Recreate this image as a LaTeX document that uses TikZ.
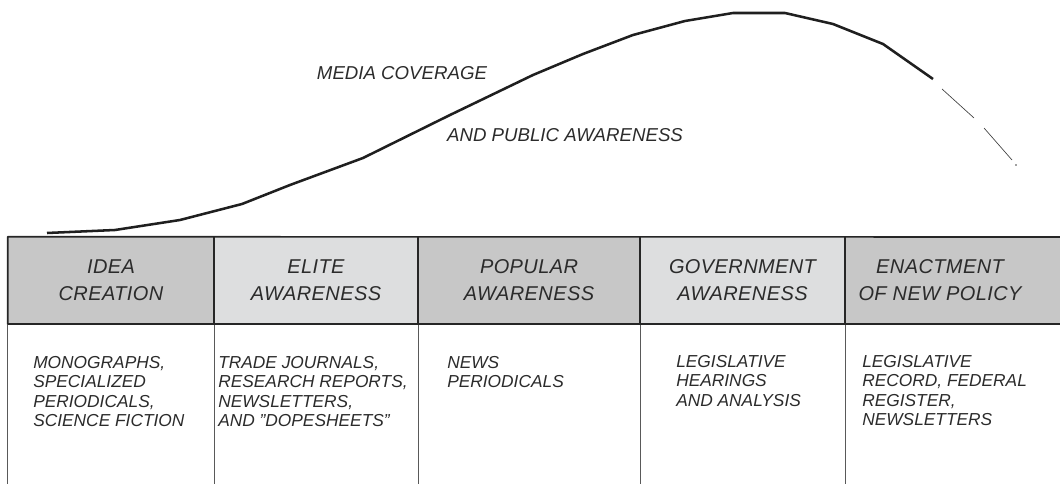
\documentclass[tikz,border=0pt]{standalone}
\usepackage{fontspec}
\setmainfont{Liberation Sans}
\usetikzlibrary{positioning}
\definecolor{ink}{HTML}{2B2B2B}
\definecolor{celldark}{HTML}{C7C7C7}
\definecolor{celllight}{HTML}{DDDEDF}

\begin{document}
\begin{tikzpicture}[x=0.75pt,y=-0.75pt,line join=round,
	cell/.style={inner sep=0pt,minimum height=65.25pt,align=center,text=ink,
		font=\fontsize{15}{20.25}\selectfont\itshape\addfontfeatures{LetterSpace=2}},
	dark cell/.style={cell,fill=celldark},
	light cell/.style={cell,fill=celllight},
	list node/.style={anchor=north west,inner sep=0pt,align=left,text=ink,
		font=\fontsize{13}{14.5}\selectfont\itshape},
	curve label/.style={inner sep=0pt,text=ink,font=\fontsize{14}{16}\selectfont\itshape},
	rule/.style={draw=black!85,line width=1.2pt},
	thin rule/.style={draw=black!65,line width=0.8pt},
	media curve/.style={draw=black!88,line width=1.9pt},
	fade curve/.style={draw=black!75,line width=0.5pt}]

	\useasboundingbox (0,0) rectangle (1060,484);

	% header band
	\fill[celldark] (8,237) rectangle (1062,324);
	\node[dark cell,minimum width=154.5pt] (idea) at (111,280.5) {IDEA\\CREATION};
	\node[light cell,minimum width=153pt] (elite) at (316,280.5) {ELITE\\AWARENESS};
	\node[dark cell,minimum width=166.5pt] (popular) at (529,280.5) {POPULAR\\AWARENESS};
	\node[light cell,minimum width=153.75pt] (gov) at (742.5,280.5) {GOVERNMENT\\AWARENESS};
	\node[dark cell,minimum width=142.5pt] (enact) at (940,280.5) {ENACTMENT\\OF NEW POLICY};

	\coordinate (edge) at (1062,237);
	\coordinate (foot) at (0,486);

	% table lines
	\draw[thin rule] (idea.south west) -- (idea.south west |- foot);
	\foreach \c in {idea,elite,popular,gov}
		\draw[thin rule] (\c.south east) -- (\c.south east |- foot);
	\foreach \c in {idea,elite,popular,gov}
		\draw[rule] (\c.north east) -- (\c.south east);
	\draw[rule] (idea.south west) -- (idea.north west) -- (edge);
	\draw[rule] (idea.south west) -- (idea.south west -| edge);

	% sources
	\node[list node] (idea list) at (33,356) {MONOGRAPHS,\\SPECIALIZED\\PERIODICALS,\\SCIENCE FICTION};
	\node[list node] (elite list) at (218,356) {TRADE JOURNALS,\\RESEARCH REPORTS,\\NEWSLETTERS,\\AND \symbol{34}DOPESHEETS\symbol{34}};
	\node[list node] (popular list) at (447,356) {NEWS\\PERIODICALS};
	\node[list node] (gov list) at (676,355) {LEGISLATIVE\\HEARINGS\\AND ANALYSIS};
	\node[list node] (enact list) at (862,355) {LEGISLATIVE\\RECORD, FEDERAL\\REGISTER,\\NEWSLETTERS};

	% coverage curve
	\draw[media curve] (47,233) -- (115,230) -- (180,220) -- (242,204) -- (290,185)
		-- (363,158) -- (450,115) -- (533,75) -- (583,54) -- (633,35) -- (685,21)
		-- (733,13) -- (785,13) -- (833,24) -- (883,44) -- (933,79);
	\draw[fade curve] (942,89) -- (974,118) (984,128) -- (1012,160);
	\fill[black!75] (1016,165) circle (0.8);

	\node[curve label] (coverage) at (402,73) {MEDIA COVERAGE};
	\node[curve label] (public) at (565,135) {AND PUBLIC AWARENESS};
\end{tikzpicture}
\end{document}
